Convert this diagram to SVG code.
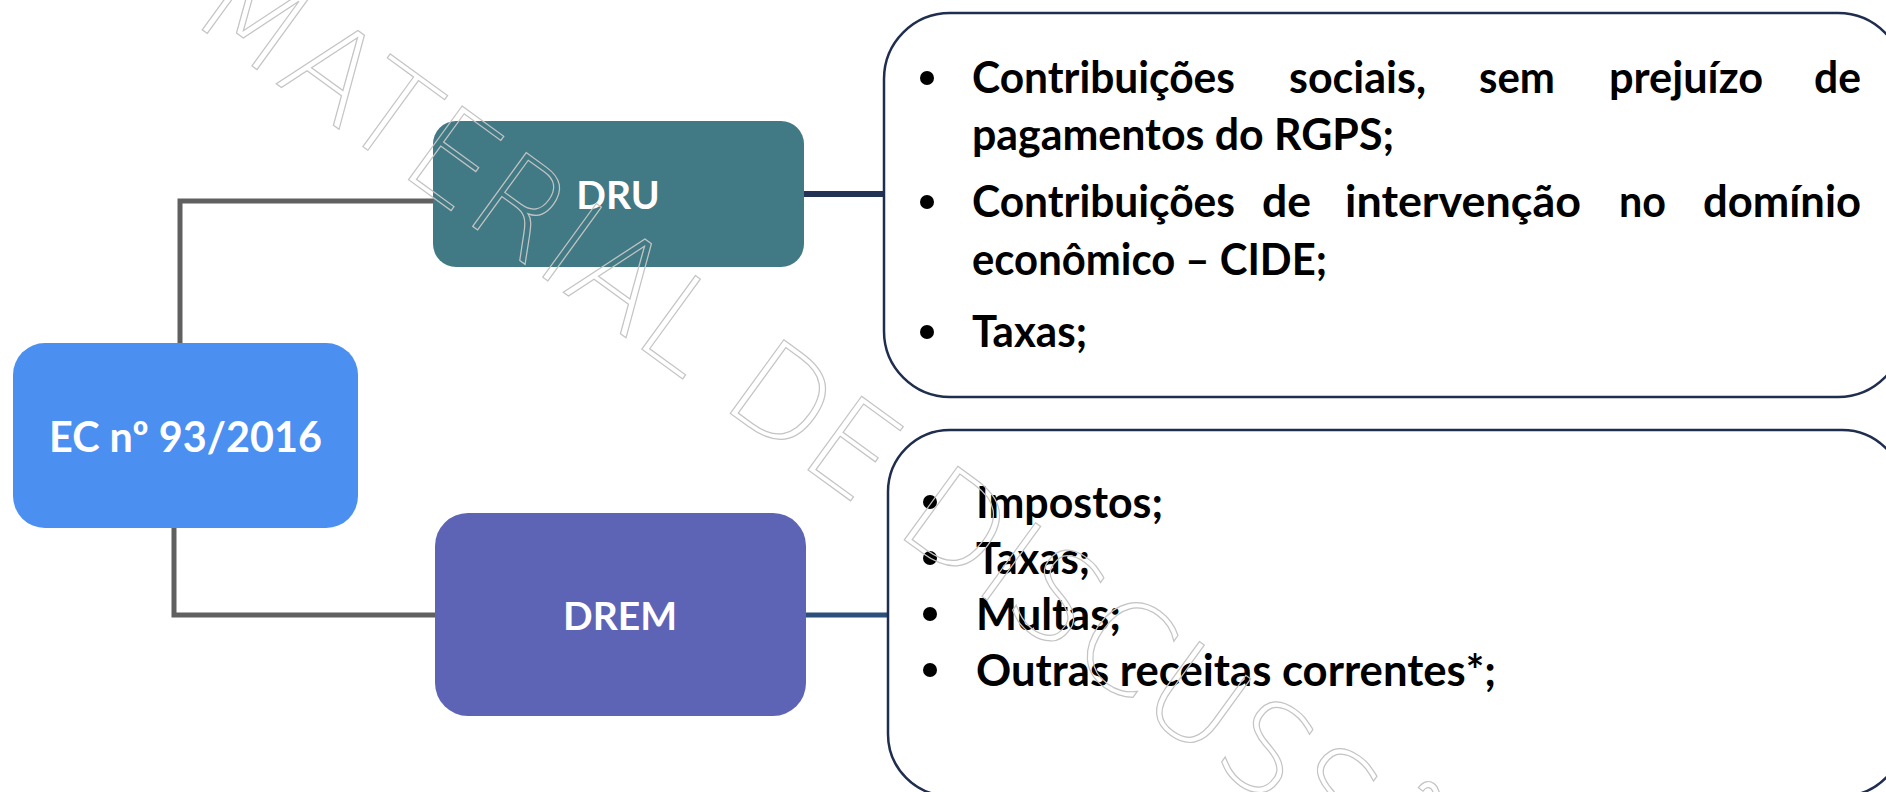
<svg xmlns="http://www.w3.org/2000/svg" width="1886" height="792" viewBox="0 0 1886 792">
<style>
.lbl{font-family:Lato,"Liberation Sans",sans-serif;font-weight:700;fill:#ffffff;text-anchor:middle}
.item{font-family:Lato,"Liberation Sans",sans-serif;font-weight:700;fill:#000000;font-size:43px}
.panel{fill:#ffffff;stroke:#1f2d4f;stroke-width:2.5}
.gray{fill:none;stroke:#606060;stroke-width:5}
.bul{fill:#000000}
.wm{font-family:"DejaVu Sans",sans-serif;font-weight:200;font-size:125px;fill:none;stroke:#c4c4c4;stroke-width:1.2}
</style>
<rect width="1886" height="792" fill="#ffffff"/>
<g id="connectors">
  <polyline class="gray" points="180,343 180,201 434,201"/>
  <polyline class="gray" points="174,528 174,615 436,615"/>
  <line x1="803" y1="194" x2="885" y2="194" stroke="#223356" stroke-width="6"/>
  <line x1="805" y1="615" x2="889" y2="615" stroke="#2a4f7a" stroke-width="5"/>
</g>
<g id="ec">
  <rect x="13" y="343" width="345" height="185" rx="32" fill="#4b8ff0"/>
  <text class="lbl" x="185.5" y="452" font-size="42" textLength="273" lengthAdjust="spacingAndGlyphs">EC nº 93/2016</text>
</g>
<g id="dru">
  <rect x="433" y="121" width="371" height="146" rx="23" fill="#417a84"/>
  <text class="lbl" x="618" y="209" font-size="39">DRU</text>
</g>
<g id="drem">
  <rect x="435" y="513" width="371" height="203" rx="33" fill="#5d64b5"/>
  <text class="lbl" x="620" y="630" font-size="39">DREM</text>
</g>
<g id="dru-list">
  <rect class="panel" x="884" y="13" width="1020" height="384" rx="66"/>
  <circle class="bul" cx="927" cy="78" r="7"/>
  <circle class="bul" cx="927" cy="202" r="7"/>
  <circle class="bul" cx="927" cy="332" r="7"/>
  <text class="item" y="93"><tspan x="972" textLength="263" lengthAdjust="spacingAndGlyphs">Contribuições</tspan> <tspan x="1289" textLength="137" lengthAdjust="spacingAndGlyphs">sociais,</tspan> <tspan x="1479" textLength="76" lengthAdjust="spacingAndGlyphs">sem</tspan> <tspan x="1609" textLength="154" lengthAdjust="spacingAndGlyphs">prejuízo</tspan> <tspan x="1814" textLength="47" lengthAdjust="spacingAndGlyphs">de</tspan></text>
  <text class="item" x="972" y="150" textLength="422" lengthAdjust="spacingAndGlyphs">pagamentos do RGPS;</text>
  <text class="item" y="217"><tspan x="972" textLength="263" lengthAdjust="spacingAndGlyphs">Contribuições</tspan> <tspan x="1262" textLength="49" lengthAdjust="spacingAndGlyphs">de</tspan> <tspan x="1345" textLength="236" lengthAdjust="spacingAndGlyphs">intervenção</tspan> <tspan x="1619" textLength="47" lengthAdjust="spacingAndGlyphs">no</tspan> <tspan x="1703" textLength="158" lengthAdjust="spacingAndGlyphs">domínio</tspan></text>
  <text class="item" x="972" y="275" textLength="355" lengthAdjust="spacingAndGlyphs">econômico – CIDE;</text>
  <text class="item" x="972" y="347" textLength="115" lengthAdjust="spacingAndGlyphs">Taxas;</text>
</g>
<g id="drem-list">
  <rect class="panel" x="888" y="430" width="1016" height="366" rx="62"/>
  <circle class="bul" cx="930" cy="502" r="7"/>
  <circle class="bul" cx="930" cy="558" r="7"/>
  <circle class="bul" cx="930" cy="614" r="7"/>
  <circle class="bul" cx="930" cy="670" r="7"/>
  <text class="item" x="976" y="518" textLength="187" lengthAdjust="spacingAndGlyphs">Impostos;</text>
  <text class="item" x="976" y="574" textLength="114" lengthAdjust="spacingAndGlyphs">Taxas;</text>
  <text class="item" x="976" y="630" textLength="145" lengthAdjust="spacingAndGlyphs">Multas;</text>
  <text class="item" x="976" y="686" textLength="520" lengthAdjust="spacingAndGlyphs">Outras receitas correntes*;</text>
</g>
<g id="watermark">
  <text class="wm" transform="translate(186,18) rotate(36)">MATERIAL DE DISCUSSÃO</text>
</g>
</svg>
